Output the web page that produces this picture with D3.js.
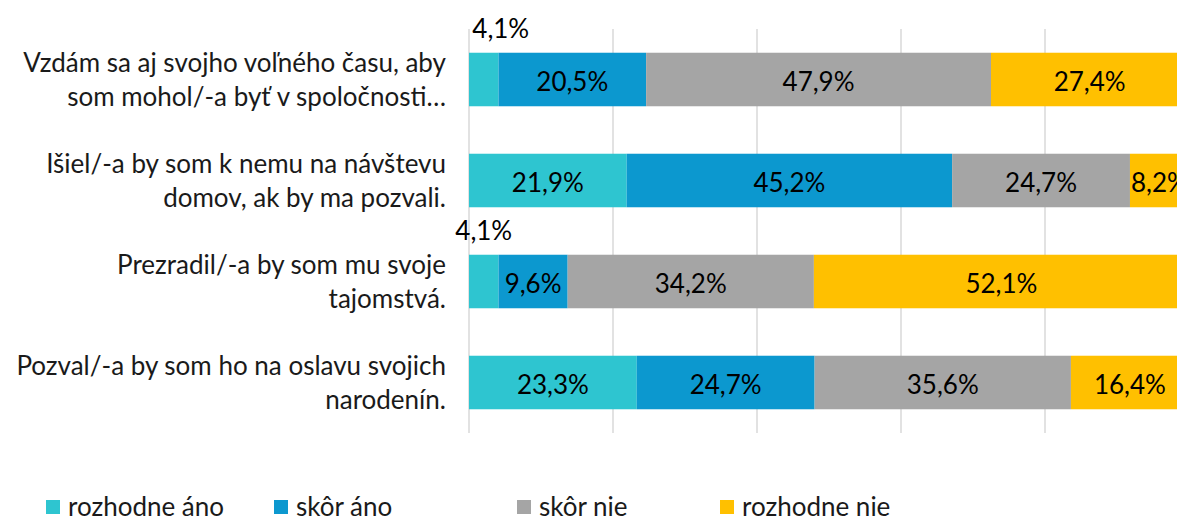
<!DOCTYPE html>
<html><head><meta charset="utf-8">
<script src="https://cdn.jsdelivr.net/npm/d3@7"></script>
<style>
html,body{margin:0;padding:0;background:#fff;overflow:hidden}
svg{display:block;font-family:Lato, "Open Sans", sans-serif}
</style></head>
<body>
<svg id="c" width="1177" height="522"></svg>
<script>
const categories = [
  ["Vzdám sa aj svojho voľného času, aby", "som mohol/-a byť v spoločnosti…"],
  ["Išiel/-a by som k nemu na návštevu", "domov, ak by ma pozvali."],
  ["Prezradil/-a by som mu svoje", "tajomstvá."],
  ["Pozval/-a by som ho na oslavu svojich", "narodenín."]
];
const seriesNames = ["rozhodne áno", "skôr áno", "skôr nie", "rozhodne nie"];
const rozhodneAno = [4.1, 21.9, 4.1, 23.3];
const skorAno = [20.5, 45.2, 9.6, 24.7];
const skorNie = [47.9, 24.7, 34.2, 35.6];
const rozhodneNie = [27.4, 8.2, 52.1, 16.4];
const xTicks = [0, 20, 40, 60, 80, 100];

const colors = ["#2EC5D0", "#0C98CF", "#A5A5A5", "#FFC000"];
const seriesValues = [rozhodneAno, skorAno, skorNie, rozhodneNie];
// manual nudges for labels placed above small segments (style only)
const aboveNudge = {"0-0": 17, "0-2": 7};

const svg = d3.select("#c");
const x = d3.scaleLinear().domain([0, 100]).range([469, 1189]);
const y = d3.scaleBand().domain(d3.range(categories.length)).range([29, 433]).paddingInner(0.47).paddingOuter(0.235);

// gridlines
svg.append("g").selectAll("line").data(xTicks).join("line")
  .attr("x1", d => x(d)).attr("x2", d => x(d))
  .attr("y1", 29).attr("y2", 433)
  .attr("stroke", "#D9D9D9").attr("stroke-width", 1.5);

const rows = categories.map((c, i) => {
  const vals = seriesValues.map(s => s[i]);
  let acc = 0;
  return vals.map((v, k) => { const o = {row: i, k, v, x0: acc, x1: acc + v}; acc += v; return o; });
});
const segs = rows.flat();

svg.append("g").selectAll("rect").data(segs).join("rect")
  .attr("x", d => x(d.x0)).attr("width", d => x(d.x1) - x(d.x0))
  .attr("y", d => y(d.row)).attr("height", y.bandwidth())
  .attr("fill", d => colors[d.k]);

const fmt = v => v.toFixed(1).replace(".", ",") + "%";
const fs = 26;
svg.append("g").selectAll("text").data(segs).join("text")
  .attr("font-size", fs).attr("fill", "#000").attr("text-anchor", "middle")
  .attr("dominant-baseline", "central")
  .each(function(d) {
    const w = x(d.x1) - x(d.x0);
    const t = d3.select(this).text(fmt(d.v));
    const tw = this.getComputedTextLength();
    const cx = (x(d.x0) + x(d.x1)) / 2;
    if (tw > w + 10 && d.k === 0) {
      t.attr("x", cx + (aboveNudge[d.row + "-" + d.k] || 0)).attr("y", y(d.row) - 25);
    } else {
      t.attr("x", cx).attr("y", y(d.row) + y.bandwidth() / 2 + 1);
    }
  });

// category labels
const cl = svg.append("g").selectAll("text").data(categories).join("text")
  .attr("font-size", fs).attr("fill", "#1a1a1a").attr("text-anchor", "end")
  .attr("x", 446).attr("y", (d, i) => y(i) + y.bandwidth() / 2);
cl.selectAll("tspan").data(d => d).join("tspan")
  .attr("x", 446).attr("dy", (d, j) => j === 0 ? -8 : 34).text(d => d);

// legend
const legX = [46, 274, 517, 720];
const lg = svg.append("g").selectAll("g").data(seriesNames).join("g")
  .attr("transform", (d, i) => `translate(${legX[i]},500)`);
lg.append("rect").attr("width", 14).attr("height", 14).attr("fill", (d, i) => colors[i]);
lg.append("text").attr("x", 22).attr("y", 6).attr("dominant-baseline", "central")
  .attr("font-size", 26).attr("fill", "#1a1a1a").text(d => d);
</script>
</body></html>
